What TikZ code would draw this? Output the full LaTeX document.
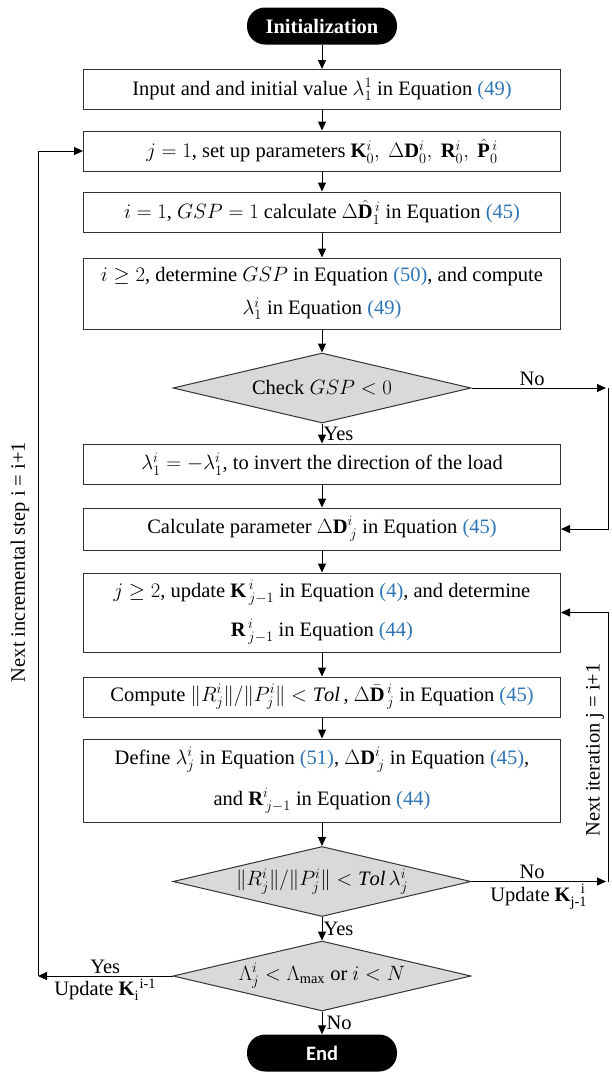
\documentclass[tikz,border=0pt]{standalone}
\usepackage{amsmath}
\usepackage{fontspec}
\setmainfont{Liberation Serif}
\newfontfamily\endfont{Carlito}
\usetikzlibrary{arrows.meta, shapes.geometric, calc}
\definecolor{eqblue}{RGB}{46,117,182}
\newcommand{\eqn}[1]{\textcolor{eqblue}{(#1)}}
\tikzset{
  box/.style={draw=black!80, line width=1pt, align=center, inner sep=3pt,
              minimum width=477pt, minimum height=40pt,
              font=\fontsize{20.5}{33}\selectfont},
  term/.style={fill=black, rounded corners=18pt, minimum width=150pt,
               minimum height=37pt, text=white,
               font=\fontsize{20.5}{24}\selectfont\bfseries},
  test/.style={diamond, aspect=4.25, draw=black!80, line width=1pt,
               fill=gray!30, inner sep=0pt, minimum width=298pt,
               minimum height=70pt, font=\fontsize{20.5}{24}\selectfont},
  flow/.style={-{Triangle[length=9pt, width=8pt]}, line width=1pt},
  tag/.style={font=\fontsize{20.5}{24}\selectfont, inner sep=2pt},
}

\begin{document}
\begin{tikzpicture}[x=1pt, y=1pt]
  \useasboundingbox (0,0) rectangle (612,-1072);

  % ---------- set-up of the increment ----------
  \node[term] (init) at (322,-26) {Initialization};
  \node[box] (input) at (322,-89.5)
    {Input and and initial value $\lambda_1^1$ in Equation \eqn{49}};
  \node[box] (setup) at (322,-151)
    {$j=1$, set up parameters $\mathbf{K}_0^i,\ \Delta\mathbf{D}_0^i,\
     \mathbf{R}_0^i,\ \hat{\mathbf{P}}{}_0^{\,i}$};
  \node[box] (first) at (322,-212)
    {$i=1$, $GSP=1$ calculate $\Delta\hat{\mathbf{D}}{}_1^{\,i}$ in Equation \eqn{45}};
  \node[box, minimum height=71pt] (gsp) at (322,-293.5)
    {$i\geq 2$, determine $GSP$ in Equation \eqn{50}, and compute\\
     $\lambda_1^i$ in Equation \eqn{49}};
  \node[test] (chk) at (322,-388) {Check $GSP<0$};
  \node[box] (invert) at (322,-464)
    {$\lambda_1^i=-\lambda_1^i$, to invert the direction of the load};

  \draw[flow] (init) -- (input);
  \draw[flow] (input) -- (setup);
  \draw[flow] (setup) -- (first);
  \draw[flow] (first) -- (gsp);
  \draw[flow] (gsp) -- (chk);
  \draw[flow] (chk.south) -- node[tag, right, inner sep=1pt] {Yes} (invert.north);

  % ---------- equilibrium iterations ----------
  \node[box, minimum height=42pt] (delta) at (322,-529)
    {Calculate parameter $\Delta\mathbf{D}^i_{\,j}$ in Equation \eqn{45}};
  \node[box, minimum height=79pt] (update) at (322,-612.5)
    {$j\geq 2$, update $\mathbf{K}^{\,i}_{\,j-1}$ in Equation \eqn{4}, and determine\\[6pt]
     $\mathbf{R}^{\,i}_{\,j-1}$ in Equation \eqn{44}};
  \node[box] (conv) at (322,-697)
    {Compute $\|R_j^i\|/\|P_j^i\|<\mathit{Tol}$\,, $\Delta\bar{\mathbf{D}}{}^{\,i}_{\,j}$ in Equation \eqn{45}};
  \node[box, minimum height=83pt] (define) at (322,-780.5)
    {Define $\lambda_j^i$ in Equation \eqn{51}, $\Delta\mathbf{D}^i_{\,j}$ in Equation \eqn{45},\\[8pt]
     and $\mathbf{R}^i_{\,j-1}$ in Equation \eqn{44}};
  \node[test] (tol) at (322,-881.5) {$\|R_j^i\|/\|P_j^i\|<\mathit{Tol}\,\lambda_j^i$};
  \node[test] (lmax) at (322,-976) {$\Lambda_j^i<\Lambda_{\max}$ or $i<N$};
  \node[term, font=\fontsize{20.5}{24}\endfont\bfseries] (end) at (322,-1053) {End};

  \draw[flow] (invert) -- (delta);
  \draw[flow] (delta) -- (update);
  \draw[flow] (update) -- (conv);
  \draw[flow] (conv) -- (define);
  \draw[flow] (define) -- (tol);
  \draw[flow] (tol.south) -- node[tag, right, inner sep=1pt] {Yes} (lmax.north);
  \draw[flow] (lmax.south) -- node[tag, right, inner sep=4pt] {No} (end.north);

  % ---------- GSP check skips the load inversion ----------
  \coordinate (skip) at (606,-388);
  \draw[flow] (chk.east) -- node[tag, above, pos=0.45] {No} (skip);
  \draw[flow] ([xshift=2pt]skip) |- (delta.east);

  % ---------- next iteration ----------
  \coordinate (iter) at (606,-881.5);
  \draw[flow] (tol.east) -- node[tag, above, pos=0.45] {No}
    node[tag, below, pos=0.5] {Update \textbf{K}$_\textrm{j-1}^{\ \ \textrm{i}}$} (iter);
  \draw[flow] ([xshift=2pt]iter) |- (update.east);
  \node[tag, rotate=90] (iterlbl) at (595,-750) {Next iteration j = i+1};

  % ---------- next increment ----------
  \coordinate (incr) at (38,-976);
  \draw[flow] (lmax.west) -- node[tag, above] {Yes}
    node[tag, below] {Update \textbf{K}$_\textrm{i}^{\ \textrm{i-1}}$} (incr);
  \draw[flow] (incr) |- (setup.west);
  \node[tag, rotate=90] (incrlbl) at (20,-562) {Next incremental step i = i+1};

\end{tikzpicture}
\end{document}
